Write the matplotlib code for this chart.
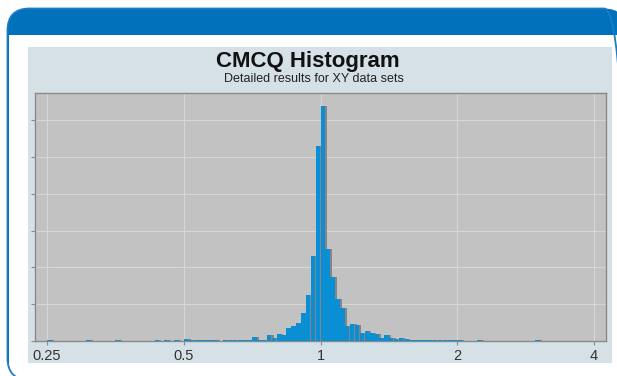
import matplotlib
matplotlib.use("Agg")
import matplotlib.pyplot as plt
import numpy as np
from matplotlib.patches import FancyBboxPatch, Rectangle
from matplotlib.transforms import IdentityTransform
import matplotlib.patheffects as pe

# ---- data (histogram, 28 log-uniform bins per doubling; bin k covers [2**(k/28), 2**((k+1)/28)) ) ----
bins_per_octave = 28
bin_index = [-56, -48, -42, -34, -32, -30, -28, -27, -26, -25, -24, -23, -22,
             -20, -19, -18, -17, -16, -15, -14, -13, -12, -11, -10, -9, -8,
             -7, -6, -5, -4, -3, -2, -1, 0, 1, 2, 3, 4, 5, 6, 7, 8, 9, 10,
             11, 12, 13, 14, 15, 16, 17, 18, 19, 20, 21, 22, 23, 24, 25, 26,
             27, 28, 32, 44]
counts = [2, 2, 2, 2, 3, 2, 6, 3, 2, 3, 2, 2, 2,
          4, 2, 2, 2, 3, 4, 10, 4, 4, 16, 8, 20, 15,
          34, 40, 50, 76, 126, 232, 531, 639, 249, 174, 115, 90, 40, 45, 43, 23, 26, 22,
          20, 9, 16, 9, 5, 9, 5, 4, 4, 3, 4, 3, 3, 2, 3, 2,
          2, 2, 2, 3]
x_ticks = [0.25, 0.5, 1, 2, 4]
x_tick_labels = ["0.25", "0.5", "1", "2", "4"]
y_ticks = [0, 100, 200, 300, 400, 500, 600]
title = "CMCQ Histogram"
subtitle = "Detailed results for XY data sets"

W, H = 617, 376
fig = plt.figure(figsize=(W / 100, H / 100), dpi=100)
fig.patch.set_facecolor("white")

BLUE = "#0072bc"

def disp(y):
    return H - y

# frame: blue filled rounded rect, white body, blue outline
r = 22
fx0, fy0, fx1, fy1 = 7.5, 8.5, 626, 380
frame_kw = dict(boxstyle=f"round,pad=0,rounding_size={r}", transform=IdentityTransform())
fig.patches.append(FancyBboxPatch((fx0, disp(fy1)), fx1 - fx0, fy1 - fy0, facecolor=BLUE,
                                  edgecolor="none", zorder=0, **frame_kw))
fig.patches.append(Rectangle((fx0 + 1, disp(fy1 - 1)), fx1 - fx0 - 2, fy1 - 36, facecolor="white",
                             edgecolor="none", transform=IdentityTransform(), zorder=1))
fig.patches.append(FancyBboxPatch((fx0, disp(fy1)), fx1 - fx0, fy1 - fy0, facecolor="none",
                                  edgecolor="#1a7cc4", linewidth=1.3, zorder=2, **frame_kw))
# light panel
fig.patches.append(Rectangle((28, disp(363)), 612 - 28, 363 - 47, facecolor="#d5e0e7",
                             edgecolor="none", transform=IdentityTransform(), zorder=3))

fig.text(308 / W, 1 - 61 / H, title, ha="center", va="center",
         fontsize=16, fontweight="bold", family=["Liberation Sans", "DejaVu Sans"],
         color="#111111", zorder=5)
fig.text(314 / W, 1 - 78.5 / H, subtitle, ha="center", va="center",
         fontsize=9, family=["Liberation Sans", "DejaVu Sans"], color="#222222", zorder=5)

ax = fig.add_axes([35 / W, 1 - 341 / H, (606 - 35) / W, (341 - 93) / H], zorder=6)
ax.set_facecolor("#c2c2c2")
ax.set_xscale("log")

k = np.array(bin_index, dtype=float)
left = 2 ** (k / bins_per_octave)
right = 2 ** ((k + 1) / bins_per_octave)
bars = ax.bar(left, counts, width=(right - left) * 0.92, align="edge",
              color="#0b8fd4", edgecolor="none", zorder=3)
for b in bars:
    b.set_path_effects([pe.SimplePatchShadow(offset=(1.6, 0), shadow_rgbFace="#7f7f7f", alpha=0.9),
                        pe.Normal()])

ax.set_xlim(0.2351, 4.251)
ax.set_ylim(0, 674)
ax.set_xticks(x_ticks)
ax.set_xticklabels(x_tick_labels)
ax.xaxis.set_minor_locator(matplotlib.ticker.NullLocator())
ax.set_yticks(y_ticks)
ax.set_yticklabels([])
ax.grid(True, color="#d6d6d6", linewidth=0.8, zorder=0)
ax.set_axisbelow(True)
for s in ax.spines.values():
    s.set_color("#8a8a8a")
    s.set_linewidth(1.0)
ax.tick_params(axis="x", length=3, color="#8a8a8a", pad=3, labelsize=10.5, labelcolor="#333333")
ax.tick_params(axis="y", length=3, color="#8a8a8a")
for lbl in ax.get_xticklabels():
    lbl.set_family(["Liberation Sans", "DejaVu Sans"])

fig.savefig("out.png", dpi=100, facecolor="white")
